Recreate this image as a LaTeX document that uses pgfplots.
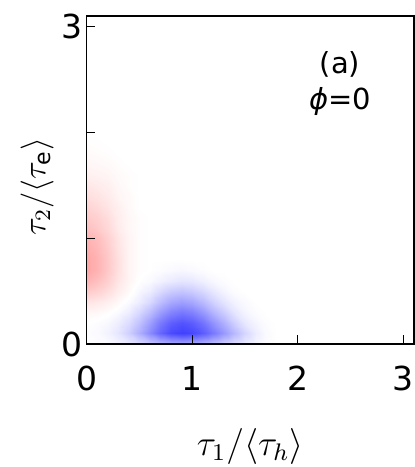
\documentclass[border=0pt]{standalone}
\usepackage{graphicx}
\usepackage{fontspec}
\setmainfont{DejaVu Sans}
\usepackage{pgfplots}
\pgfplotsset{compat=1.18}
\pgfplotsset{colormap={bwr}{rgb255(0cm)=(0,0,255); rgb255(1cm)=(255,255,255); rgb255(2cm)=(255,0,0)}}

% red lobe near tau1=0 (upper part only, lower rows live in the second table)
\pgfplotstableread{
x y v
0 0.8 0.35
0.1 0.8 0.30
0.2 0.8 0.21
0.3 0.8 0.12
0.4 0.8 0.04
0.5 0.8 0.01
0.6 0.8 0
0 0.9 0.33
0.1 0.9 0.28
0.2 0.9 0.20
0.3 0.9 0.11
0.4 0.9 0.04
0.5 0.9 0.01
0.6 0.9 0
0 1.0 0.30
0.1 1.0 0.26
0.2 1.0 0.18
0.3 1.0 0.10
0.4 1.0 0.04
0.5 1.0 0.01
0.6 1.0 0
0 1.1 0.25
0.1 1.1 0.21
0.2 1.1 0.15
0.3 1.1 0.08
0.4 1.1 0.03
0.5 1.1 0.01
0.6 1.1 0
0 1.2 0.21
0.1 1.2 0.18
0.2 1.2 0.13
0.3 1.2 0.07
0.4 1.2 0.03
0.5 1.2 0.01
0.6 1.2 0
0 1.3 0.17
0.1 1.3 0.14
0.2 1.3 0.10
0.3 1.3 0.06
0.4 1.3 0.02
0.5 1.3 0
0.6 1.3 0
0 1.4 0.13
0.1 1.4 0.11
0.2 1.4 0.08
0.3 1.4 0.04
0.4 1.4 0.02
0.5 1.4 0
0.6 1.4 0
0 1.5 0.095
0.1 1.5 0.08
0.2 1.5 0.06
0.3 1.5 0.03
0.4 1.5 0.01
0.5 1.5 0
0.6 1.5 0
0 1.6 0.06
0.1 1.6 0.05
0.2 1.6 0.04
0.3 1.6 0.02
0.4 1.6 0.01
0.5 1.6 0
0.6 1.6 0
0 1.7 0.035
0.1 1.7 0.03
0.2 1.7 0.02
0.3 1.7 0.01
0.4 1.7 0
0.5 1.7 0
0.6 1.7 0
0 1.8 0.02
0.1 1.8 0.015
0.2 1.8 0.01
0.3 1.8 0
0.4 1.8 0
0.5 1.8 0
0.6 1.8 0
0 1.9 0.01
0.1 1.9 0.005
0.2 1.9 0
0.3 1.9 0
0.4 1.9 0
0.5 1.9 0
0.6 1.9 0
0 2.0 0
0.1 2.0 0
0.2 2.0 0
0.3 2.0 0
0.4 2.0 0
0.5 2.0 0
0.6 2.0 0
}\redlobe

% bottom strip: blue lobe plus the foot of the red one
\pgfplotstableread{
x y v
0 0 0
0.1 0 -0.01
0.2 0 -0.02
0.3 0 -0.05
0.4 0 -0.09
0.5 0 -0.14
0.6 0 -0.21
0.7 0 -0.27
0.8 0 -0.32
0.9 0 -0.34
1.0 0 -0.32
1.1 0 -0.29
1.2 0 -0.24
1.3 0 -0.18
1.4 0 -0.13
1.5 0 -0.08
1.6 0 -0.04
1.7 0 -0.01
1.8 0 0
0 0.1 -0.01
0.1 0.1 -0.02
0.2 0.1 -0.05
0.3 0.1 -0.10
0.4 0.1 -0.19
0.5 0.1 -0.31
0.6 0.1 -0.46
0.7 0.1 -0.60
0.8 0.1 -0.71
0.9 0.1 -0.75
1.0 0.1 -0.72
1.1 0.1 -0.64
1.2 0.1 -0.53
1.3 0.1 -0.40
1.4 0.1 -0.28
1.5 0.1 -0.16
1.6 0.1 -0.07
1.7 0.1 -0.02
1.8 0.1 0
0 0.2 0
0.1 0.2 -0.01
0.2 0.2 -0.03
0.3 0.2 -0.07
0.4 0.2 -0.14
0.5 0.2 -0.24
0.6 0.2 -0.38
0.7 0.2 -0.52
0.8 0.2 -0.63
0.9 0.2 -0.675
1.0 0.2 -0.64
1.1 0.2 -0.55
1.2 0.2 -0.43
1.3 0.2 -0.31
1.4 0.2 -0.19
1.5 0.2 -0.09
1.6 0.2 -0.04
1.7 0.2 -0.01
1.8 0.2 0
0 0.3 0.035
0.1 0.3 0.03
0.2 0.3 0.01
0.3 0.3 -0.02
0.4 0.3 -0.07
0.5 0.3 -0.15
0.6 0.3 -0.26
0.7 0.3 -0.38
0.8 0.3 -0.48
0.9 0.3 -0.525
1.0 0.3 -0.49
1.1 0.3 -0.40
1.2 0.3 -0.29
1.3 0.3 -0.19
1.4 0.3 -0.10
1.5 0.3 -0.04
1.6 0.3 -0.01
1.7 0.3 0
1.8 0.3 0
0 0.4 0.105
0.1 0.4 0.09
0.2 0.4 0.06
0.3 0.4 0.025
0.4 0.4 -0.02
0.5 0.4 -0.07
0.6 0.4 -0.15
0.7 0.4 -0.25
0.8 0.4 -0.34
0.9 0.4 -0.375
1.0 0.4 -0.345
1.1 0.4 -0.27
1.2 0.4 -0.18
1.3 0.4 -0.105
1.4 0.4 -0.05
1.5 0.4 -0.02
1.6 0.4 0
1.7 0.4 0
1.8 0.4 0
0 0.5 0.21
0.1 0.5 0.18
0.2 0.5 0.13
0.3 0.5 0.07
0.4 0.5 0.02
0.5 0.5 -0.03
0.6 0.5 -0.07
0.7 0.5 -0.14
0.8 0.5 -0.20
0.9 0.5 -0.225
1.0 0.5 -0.20
1.1 0.5 -0.15
1.2 0.5 -0.09
1.3 0.5 -0.04
1.4 0.5 -0.01
1.5 0.5 0
1.6 0.5 0
1.7 0.5 0
1.8 0.5 0
0 0.6 0.30
0.1 0.6 0.25
0.2 0.6 0.18
0.3 0.6 0.10
0.4 0.6 0.04
0.5 0.6 0
0.6 0.6 -0.02
0.7 0.6 -0.05
0.8 0.6 -0.08
0.9 0.6 -0.10
1.0 0.6 -0.09
1.1 0.6 -0.06
1.2 0.6 -0.03
1.3 0.6 -0.01
1.4 0.6 0
1.5 0.6 0
1.6 0.6 0
1.7 0.6 0
1.8 0.6 0
0 0.7 0.35
0.1 0.7 0.30
0.2 0.7 0.21
0.3 0.7 0.12
0.4 0.7 0.04
0.5 0.7 0.01
0.6 0.7 0
0.7 0.7 -0.01
0.8 0.7 -0.02
0.9 0.7 -0.03
1.0 0.7 -0.02
1.1 0.7 -0.01
1.2 0.7 0
1.3 0.7 0
1.4 0.7 0
1.5 0.7 0
1.6 0.7 0
1.7 0.7 0
1.8 0.7 0
0 0.8 0.35
0.1 0.8 0.30
0.2 0.8 0.21
0.3 0.8 0.12
0.4 0.8 0.04
0.5 0.8 0.01
0.6 0.8 0
0.7 0.8 0
0.8 0.8 0
0.9 0.8 0
1.0 0.8 0
1.1 0.8 0
1.2 0.8 0
1.3 0.8 0
1.4 0.8 0
1.5 0.8 0
1.6 0.8 0
1.7 0.8 0
1.8 0.8 0
}\bluelobe

\begin{document}
\begin{tikzpicture}
\useasboundingbox (-86.5pt,-123pt) rectangle (328.5pt,344pt);
\begin{axis}[
    at={(0,0)}, anchor=south west,
    width=327.5pt, height=328pt, scale only axis,
    xmin=0, xmax=3.1, ymin=0, ymax=3.1,
    xtick={0,1,2,3}, ytick={0,1,2,3},
    yticklabels={0,,,3},
    xtick pos=bottom, ytick pos=left,
    tick align=inside, major tick length=9pt,
    axis line style={line width=1.3pt},
    every tick/.style={line width=1.1pt, black},
    axis on top,
    /pgf/number format/assume math mode=true,
    ticklabel style={font=\fontsize{33}{38}\selectfont},
    xticklabel style={inner sep=0pt, anchor=center, yshift=-34pt},
    yticklabel style={inner sep=0pt, anchor=east, xshift=-4pt},
    label style={font=\fontsize{12}{14}\selectfont},
    xlabel={\scalebox{3.0}{$\tau_1/\langle\tau_h\rangle$}},
    ylabel={\scalebox{2.75}{$\tau_2/\langle\tau_{\mathrm{e}}\rangle$}},
    x label style={at={(axis description cs:0.5,-0.311)}, anchor=center},
    y label style={at={(axis description cs:-0.151,0.48)}, anchor=center},
    colormap name=bwr, point meta min=-1, point meta max=1,
]
\addplot[surf, shader=interp, mesh/cols=7, point meta=explicit] table[x=x, y=y, meta=v] {\redlobe};
\addplot[surf, shader=interp, mesh/cols=19, point meta=explicit] table[x=x, y=y, meta=v] {\bluelobe};
\node[font=\fontsize{29}{34}\selectfont] at (axis cs:2.40,2.64) {(a)};
\node[font=\fontsize{29}{34}\selectfont] at (axis cs:2.40,2.29) {{\itshape ϕ}=0};
\end{axis}
\end{tikzpicture}
\end{document}
